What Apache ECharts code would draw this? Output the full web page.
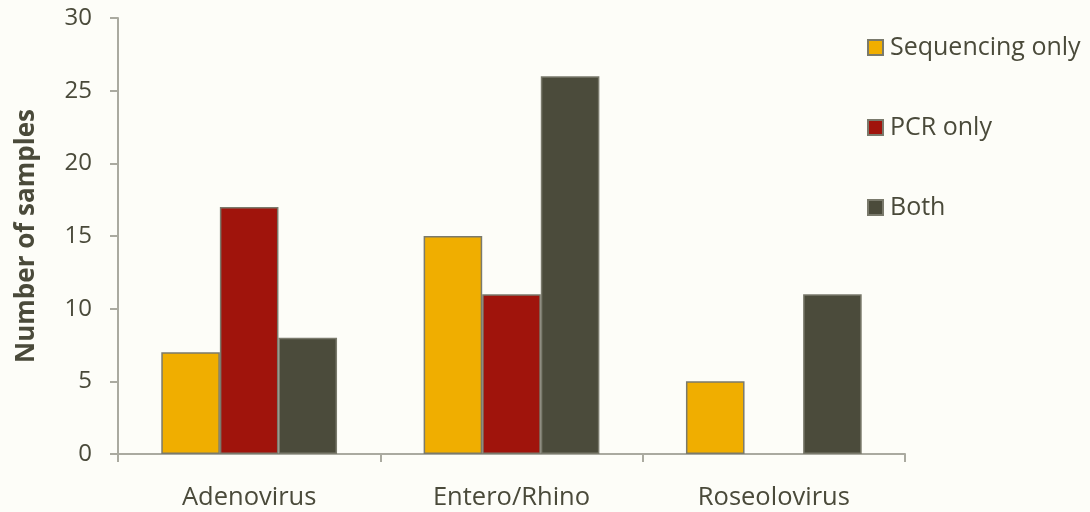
<!DOCTYPE html>
<html>
<head>
<meta charset="utf-8">
<script src="https://cdn.jsdelivr.net/npm/echarts@6/dist/echarts.min.js"></script>
<style>
  html, body { margin: 0; padding: 0; background: #fdfdf8; }
  #chart { width: 1090px; height: 512px; }
</style>
</head>
<body>
<div id="chart"></div>
<script>
// Virus categories on the x axis
const categories = ['Adenovirus', 'Entero/Rhino', 'Roseolovirus'];
// Sample counts per detection method (null = no bar)
const sequencingOnly = [7, 15, 5];
const pcrOnly = [17, 11, null];
const both = [8, 26, 11];
const seriesNames = ['Sequencing only', 'PCR only', 'Both'];
const seriesColors = ['#f0ae00', '#a0140c', '#4b4b3b'];

const textColor = '#4a4a3a';
const fontFamily = '"Open Sans", "Noto Sans", sans-serif';

const chart = echarts.init(document.getElementById('chart'));

const dataSets = [sequencingOnly, pcrOnly, both];

chart.setOption({
  backgroundColor: '#fdfdf8',
  animation: false,
  textStyle: { fontFamily: fontFamily, color: textColor },
  grid: { left: 118, right: 185, top: 18, bottom: 58, containLabel: false },
  legend: {
    orient: 'vertical',
    left: 862,
    top: 30,
    itemGap: 55,
    itemWidth: 15,
    itemHeight: 15,
    icon: 'rect',
    textStyle: { fontSize: 25, color: textColor, fontFamily: fontFamily, padding: [0, 0, 0, 2] },
    data: seriesNames
  },
  xAxis: {
    type: 'category',
    data: categories,
    axisLine: { lineStyle: { color: '#aaaaa0', width: 2 } },
    axisTick: { show: true, length: 8, lineStyle: { color: '#aaaaa0', width: 2 } },
    axisLabel: { fontSize: 25.5, color: textColor, margin: 31, fontFamily: fontFamily }
  },
  yAxis: {
    type: 'value',
    min: 0,
    max: 30,
    interval: 5,
    name: 'Number of samples',
    nameLocation: 'middle',
    nameGap: 78,
    nameTextStyle: { fontSize: 26, fontWeight: 'bold', color: textColor, fontFamily: fontFamily },
    axisLine: { show: true, lineStyle: { color: '#aaaaa0', width: 2 } },
    axisTick: { show: true, length: 8, lineStyle: { color: '#aaaaa0', width: 2 } },
    axisLabel: { fontSize: 24, color: textColor, margin: 26, fontFamily: fontFamily },
    splitLine: { show: false }
  },
  series: seriesNames.map((name, i) => ({
    name: name,
    type: 'bar',
    data: dataSets[i],
    barGap: '0%',
    barCategoryGap: '33%',
    itemStyle: {
      color: seriesColors[i],
      borderColor: '#7a7a6c',
      borderWidth: 1.5
    }
  }))
});
</script>
</body>
</html>
